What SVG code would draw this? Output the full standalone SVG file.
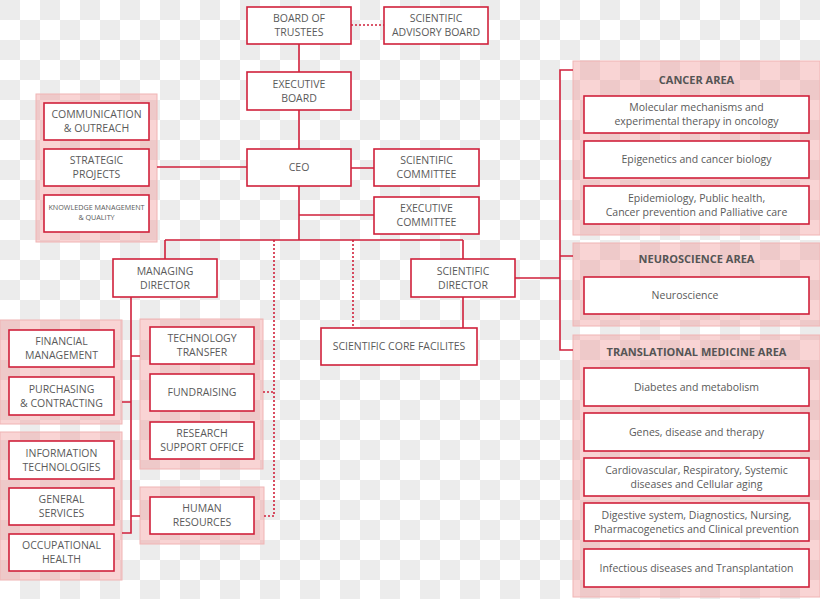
<svg xmlns="http://www.w3.org/2000/svg" width="820" height="599" viewBox="0 0 820 599">
<defs>
<pattern id="chk" width="40" height="40" patternUnits="userSpaceOnUse">
<rect width="40" height="40" fill="#ffffff"/>
<rect width="20" height="20" fill="#ececec"/>
<rect x="20" y="20" width="20" height="20" fill="#ececec"/>
</pattern>
<style>
.panel{fill:#f2a0a0;fill-opacity:0.45;stroke:#f0b4b4;stroke-width:1}
.box{fill:#ffffff;stroke:#d0213b;stroke-width:1.6}
.ln{fill:none;stroke:#d0213b;stroke-width:1.6}
.dot{fill:none;stroke:#d0213b;stroke-width:1.6;stroke-dasharray:2 2}
text{font-family:"Open Sans","Noto Sans","Liberation Sans",sans-serif;font-size:10.5px;fill:#5a5a5a;text-anchor:middle}
.t{font-weight:bold;font-size:11px;fill:#555555}
.sm{font-size:7.2px}
</style>
</defs>
<rect width="820" height="599" fill="url(#chk)"/>

<g id="panels">
<rect class="panel" x="36" y="94" width="121" height="148"/>
<rect class="panel" x="0" y="320" width="122" height="104"/>
<rect class="panel" x="0" y="432" width="122" height="148"/>
<rect class="panel" x="140" y="319" width="123" height="150"/>
<rect class="panel" x="140" y="487" width="124" height="57"/>
<rect class="panel" x="573" y="61" width="247" height="174"/>
<rect class="panel" x="573" y="243" width="247" height="83"/>
<rect class="panel" x="573" y="335" width="247" height="262"/>
</g>

<g id="connectors">
<path class="ln" d="M299 44V72M299 110V149M351 168H374M299 186V240M299 215H374M157 167H247M165 240H463M165 240V259M463 240V259M463 297V328M131 297V533H122M122 402H131M131 356H140M131 516H140M515 278H560M573 70H560V350H573M560 256H573"/>
<path class="dot" d="M351 25H384M274 240V516H264M263 392H274M353 240V328"/>
</g>

<g id="n-bot"><rect class="box" x="247" y="7" width="104" height="37"/><text x="299" y="22.25">BOARD OF</text><text x="299" y="36.25">TRUSTEES</text></g>
<g id="n-sab"><rect class="box" x="384" y="7" width="104" height="37"/><text x="436" y="22.25">SCIENTIFIC</text><text x="436" y="36.25">ADVISORY BOARD</text></g>
<g id="n-eb"><rect class="box" x="247" y="72" width="104" height="38"/><text x="299" y="87.75">EXECUTIVE</text><text x="299" y="101.75">BOARD</text></g>
<g id="n-ceo"><rect class="box" x="247" y="149" width="104" height="37"/><text x="299" y="171.25">CEO</text></g>
<g id="n-sc"><rect class="box" x="374" y="149" width="105" height="37"/><text x="426.5" y="164.25">SCIENTIFIC</text><text x="426.5" y="178.25">COMMITTEE</text></g>
<g id="n-ec"><rect class="box" x="374" y="197" width="105" height="37"/><text x="426.5" y="212.25">EXECUTIVE</text><text x="426.5" y="226.25">COMMITTEE</text></g>

<g id="n-comm"><rect class="box" x="44" y="103" width="105" height="37"/><text x="96.5" y="118.25">COMMUNICATION</text><text x="96.5" y="132.25">&amp; OUTREACH</text></g>
<g id="n-sp"><rect class="box" x="44" y="149" width="105" height="37"/><text x="96.5" y="164.25">STRATEGIC</text><text x="96.5" y="178.25">PROJECTS</text></g>
<g id="n-kmq"><rect class="box" x="44" y="195" width="105" height="37"/><text class="sm" x="96.5" y="210.2">KNOWLEDGE MANAGEMENT</text><text class="sm" x="96.5" y="220.2">&amp; QUALITY</text></g>

<g id="n-md"><rect class="box" x="113" y="259" width="104" height="38"/><text x="165" y="274.75">MANAGING</text><text x="165" y="288.75">DIRECTOR</text></g>
<g id="n-sd"><rect class="box" x="411" y="259" width="104" height="38"/><text x="463" y="274.75">SCIENTIFIC</text><text x="463" y="288.75">DIRECTOR</text></g>
<g id="n-scf"><rect class="box" x="321" y="328" width="156" height="37"/><text x="399" y="350.25">SCIENTIFIC CORE FACILITES</text></g>

<g id="n-fin"><rect class="box" x="9" y="330" width="105" height="37"/><text x="61.5" y="345.25">FINANCIAL</text><text x="61.5" y="359.25">MANAGEMENT</text></g>
<g id="n-pur"><rect class="box" x="9" y="377" width="105" height="38"/><text x="61.5" y="392.75">PURCHASING</text><text x="61.5" y="406.75">&amp; CONTRACTING</text></g>
<g id="n-it"><rect class="box" x="9" y="441" width="105" height="38"/><text x="61.5" y="456.75">INFORMATION</text><text x="61.5" y="470.75">TECHNOLOGIES</text></g>
<g id="n-gen"><rect class="box" x="9" y="488" width="105" height="37"/><text x="61.5" y="503.25">GENERAL</text><text x="61.5" y="517.25">SERVICES</text></g>
<g id="n-occ"><rect class="box" x="9" y="534" width="105" height="37"/><text x="61.5" y="549.25">OCCUPATIONAL</text><text x="61.5" y="563.25">HEALTH</text></g>

<g id="n-tt"><rect class="box" x="150" y="327" width="104" height="37"/><text x="202" y="342.25">TECHNOLOGY</text><text x="202" y="356.25">TRANSFER</text></g>
<g id="n-fund"><rect class="box" x="150" y="374" width="104" height="37"/><text x="202" y="396.25">FUNDRAISING</text></g>
<g id="n-rso"><rect class="box" x="150" y="422" width="104" height="37"/><text x="202" y="437.25">RESEARCH</text><text x="202" y="451.25">SUPPORT OFFICE</text></g>
<g id="n-hr"><rect class="box" x="150" y="497" width="104" height="37"/><text x="202" y="512.25">HUMAN</text><text x="202" y="526.25">RESOURCES</text></g>

<g id="n-cancer"><text class="t" x="696.5" y="84">CANCER AREA</text></g>
<g id="n-mol"><rect class="box" x="584" y="96" width="225" height="37"/><text x="696.5" y="111.25">Molecular mechanisms and</text><text x="696.5" y="125.25">experimental therapy in oncology</text></g>
<g id="n-epi"><rect class="box" x="584" y="141" width="225" height="37"/><text x="696.5" y="163.25">Epigenetics and cancer biology</text></g>
<g id="n-epid"><rect class="box" x="584" y="186" width="225" height="38"/><text x="696.5" y="201.75">Epidemiology, Public health,</text><text x="696.5" y="215.75">Cancer prevention and Palliative care</text></g>

<g id="n-neuroarea"><text class="t" x="696.5" y="263">NEUROSCIENCE AREA</text></g>
<g id="n-neuro"><rect class="box" x="584" y="277" width="225" height="37"/><text x="685" y="299.25">Neuroscience</text></g>

<g id="n-trans"><text class="t" x="696.5" y="356">TRANSLATIONAL MEDICINE AREA</text></g>
<g id="n-diab"><rect class="box" x="584" y="368" width="225" height="38"/><text x="696.5" y="390.75">Diabetes and metabolism</text></g>
<g id="n-genes"><rect class="box" x="584" y="413" width="225" height="38"/><text x="696.5" y="435.75">Genes, disease and therapy</text></g>
<g id="n-cardio"><rect class="box" x="584" y="458" width="225" height="38"/><text x="696.5" y="473.75">Cardiovascular, Respiratory, Systemic</text><text x="696.5" y="487.75">diseases and Cellular aging</text></g>
<g id="n-dig"><rect class="box" x="584" y="503" width="225" height="38"/><text x="696.5" y="518.75">Digestive system, Diagnostics, Nursing,</text><text x="696.5" y="532.75">Pharmacogenetics and Clinical prevention</text></g>
<g id="n-inf"><rect class="box" x="584" y="549" width="225" height="38"/><text x="696.5" y="571.75">Infectious diseases and Transplantation</text></g>
</svg>
